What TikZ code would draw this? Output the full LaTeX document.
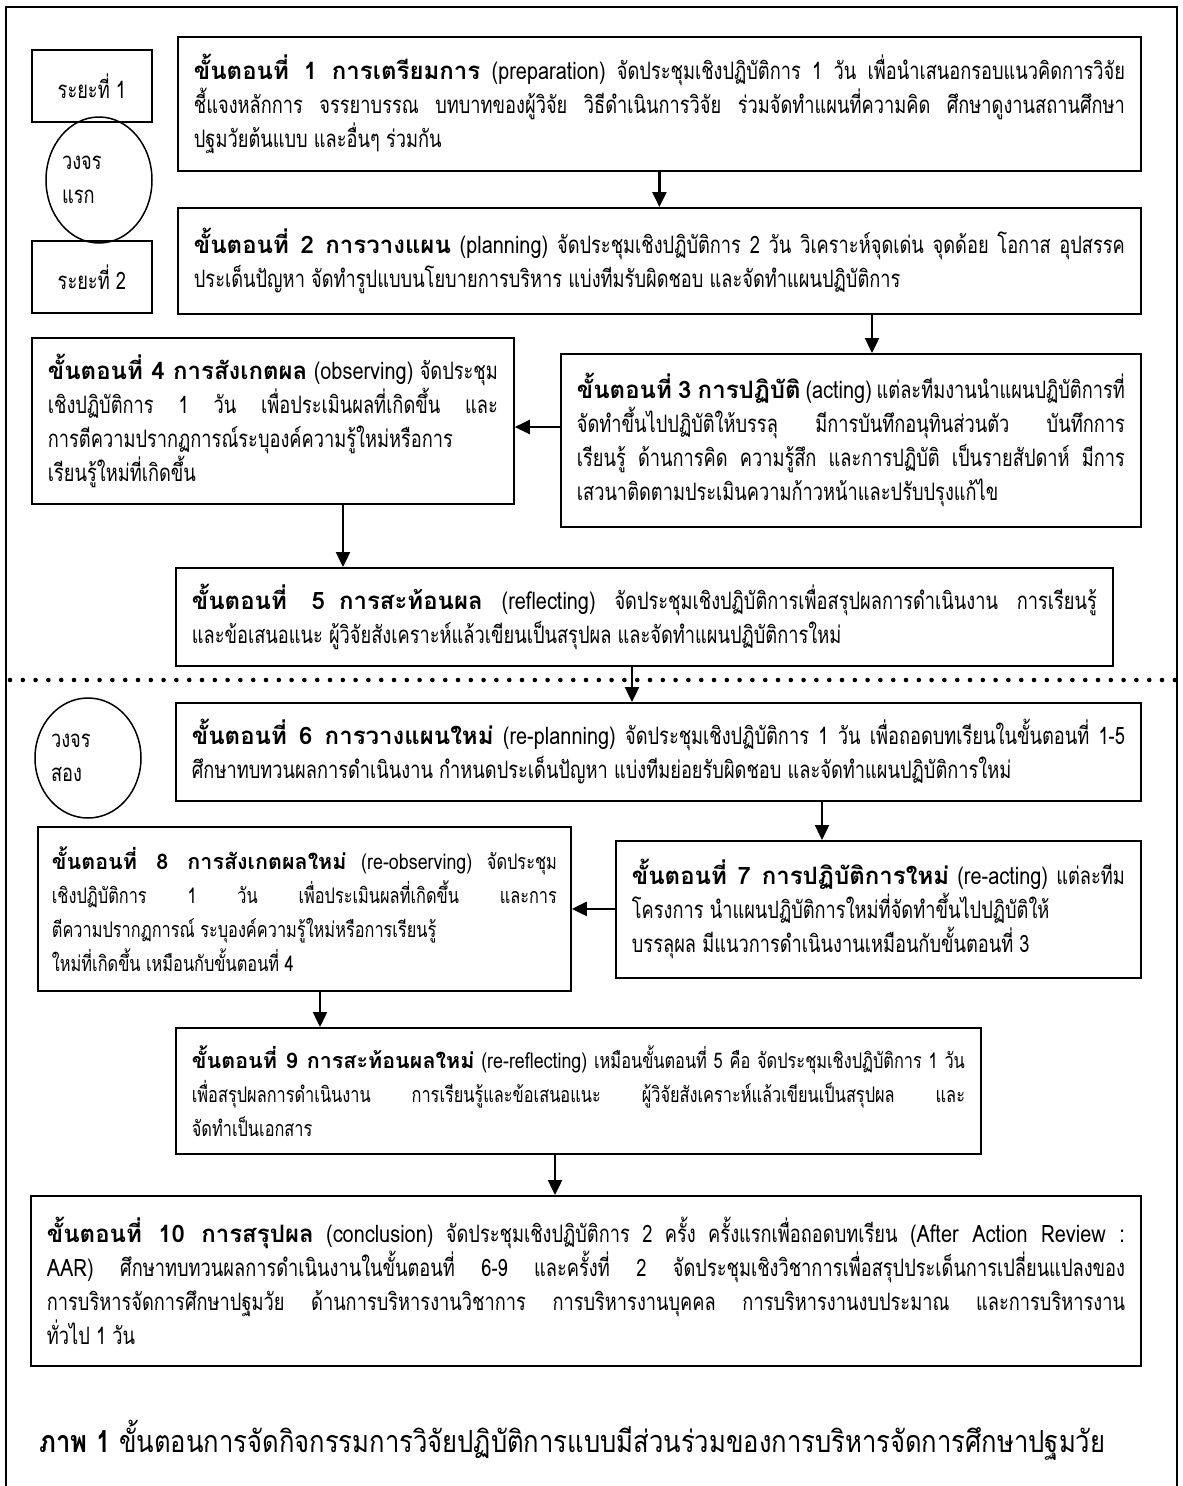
\documentclass[tikz,border=0pt]{standalone}
\usepackage{fontspec}
\setmainfont[Script=Thai, FakeStretch=0.76]{Loma}
\newfontfamily\headthai[Script=Thai]{Loma}
\newfontfamily\engthai[Script=Thai, FakeStretch=0.83]{Loma}
\newfontfamily\captionthai[Script=Thai, FakeStretch=0.84]{Loma}
\newcommand\stephead[1]{{\headthai\bfseries #1}}
\newcommand\engword[1]{{\engthai #1}}
\usetikzlibrary{arrows.meta,shapes.geometric}

\tikzset{
  stepbox/.style={draw, line width=1.8pt, anchor=north west, inner xsep=16pt, inner ysep=6pt, align=justify},
  phasebox/.style={draw, line width=1.8pt, anchor=north west, minimum width=120pt, minimum height=72pt},
  cyclering/.style={draw, ellipse, line width=1.5pt, minimum width=106pt, minimum height=126pt, inner sep=0pt, text width=74pt, align=left},
  arr/.style={-{Triangle[length=15pt,width=14pt]}, line width=2.4pt}
}

\begin{document}
\begin{tikzpicture}[x=1pt, y=-1pt, font=\fontsize{24}{34}\selectfont]
\useasboundingbox (0,0) rectangle (1183,1486);
% page frame
\draw[line width=1.2pt] (6,1490) -- (6,7) -- (1177,7) -- (1177,1490);

% first cycle
\node[phasebox] (r1) at (31,49) {ระยะที่ 1};
\node[phasebox] (r2) at (31,240) {ระยะที่ 2};
\node[cyclering] (c1) at (99,180) {วงจร\\แรก};

\node[stepbox, text width=931pt, minimum height=134pt] (s1) at (177,36)
  {\stephead{ขั้นตอนที่ 1 การเตรียมการ} \engword{(preparation)} จัดประชุมเชิงปฏิบัติการ 1 วัน เพื่อนำเสนอกรอบแนวคิดการวิจัย\linebreak
   ชี้แจงหลักการ จรรยาบรรณ บทบาทของผู้วิจัย วิธีดำเนินการวิจัย ร่วมจัดทำแผนที่ความคิด ศึกษาดูงานสถานศึกษา\linebreak
   ปฐมวัยต้นแบบ และอื่นๆ ร่วมกัน};
\node[stepbox, text width=931pt, minimum height=106pt] (s2) at (177,207)
  {\stephead{ขั้นตอนที่ 2 การวางแผน} \engword{(planning)} จัดประชุมเชิงปฏิบัติการ 2 วัน วิเคราะห์จุดเด่น จุดด้อย โอกาส อุปสรรค\linebreak
   ประเด็นปัญหา จัดทำรูปแบบนโยบายการบริหาร แบ่งทีมรับผิดชอบ และจัดทำแผนปฏิบัติการ};
\node[stepbox, text width=548pt, minimum height=173pt] (s3) at (560,353)
  {\stephead{ขั้นตอนที่ 3 การปฏิบัติ} \engword{(acting)} แต่ละทีมงานนำแผนปฏิบัติการที่\linebreak
   จัดทำขึ้นไปปฏิบัติให้บรรลุ มีการบันทึกอนุทินส่วนตัว บันทึกการ\linebreak
   เรียนรู้ ด้านการคิด ความรู้สึก และการปฏิบัติ เป็นรายสัปดาห์ มีการ\linebreak
   เสวนาติดตามประเมินความก้าวหน้าและปรับปรุงแก้ไข};
\node[stepbox, text width=450pt, minimum height=166pt] (s4) at (31,337)
  {\stephead{ขั้นตอนที่ 4 การสังเกตผล} \engword{(observing)} จัดประชุม\linebreak
   เชิงปฏิบัติการ 1 วัน เพื่อประเมินผลที่เกิดขึ้น และ\linebreak
   การตีความปรากฏการณ์ระบุองค์ความรู้ใหม่หรือการ\linebreak
   เรียนรู้ใหม่ที่เกิดขึ้น};
\node[stepbox, text width=905pt, minimum height=98pt] (s5) at (175,567)
  {\stephead{ขั้นตอนที่ 5\hspace{14pt}การสะท้อนผล} \engword{(reflecting)} จัดประชุมเชิงปฏิบัติการเพื่อสรุปผลการดำเนินงาน การเรียนรู้\linebreak
   และข้อเสนอแนะ ผู้วิจัยสังเคราะห์แล้วเขียนเป็นสรุปผล และจัดทำแผนปฏิบัติการใหม่};

\coordinate (a23) at (872,0);
\coordinate (a45) at (343,0);
\draw[arr] (s1) -- (s2);
\draw[arr] (s2.south -| a23) -- (s3.north -| a23);
\draw[arr] (s3.west |- 0,427) -- (s4.east |- 0,427);
\draw[arr] (s4.south -| a45) -- (s5.north -| a45);

% break between the two cycles
\draw[line width=4.6pt, line cap=round, dash pattern=on 0pt off 12.8pt] (10,680) -- (1176,680);

% second cycle
\node[cyclering, minimum height=120pt] (c2) at (88,758) {วงจร\\สอง};

\node[stepbox, text width=933pt, minimum height=98pt] (s6) at (175,702)
  {\stephead{ขั้นตอนที่ 6 การวางแผนใหม่} \engword{(re-planning)} จัดประชุมเชิงปฏิบัติการ 1 วัน เพื่อถอดบทเรียนในขั้นตอนที่ 1-5\linebreak
   ศึกษาทบทวนผลการดำเนินงาน กำหนดประเด็นปัญหา แบ่งทีมย่อยรับผิดชอบ และจัดทำแผนปฏิบัติการใหม่};
\node[stepbox, text width=493pt, minimum height=137pt] (s7) at (615,840)
  {\stephead{ขั้นตอนที่ 7 การปฏิบัติการใหม่} \engword{(re-acting)} แต่ละทีม\linebreak
   โครงการ นำแผนปฏิบัติการใหม่ที่จัดทำขึ้นไปปฏิบัติให้\\
   บรรลุผล มีแนวการดำเนินงานเหมือนกับขั้นตอนที่ 3};
\node[stepbox, inner xsep=14pt, text width=505pt, minimum height=164pt, font=\fontsize{21.5}{34}\selectfont] (s8) at (37,826)
  {\stephead{ขั้นตอนที่ 8 การสังเกตผลใหม่} \engword{(re-observing)} จัดประชุม\linebreak
   เชิงปฏิบัติการ 1 วัน เพื่อประเมินผลที่เกิดขึ้น และการ\linebreak
   ตีความปรากฏการณ์ ระบุองค์ความรู้ใหม่หรือการเรียนรู้\\
   ใหม่ที่เกิดขึ้น เหมือนกับขั้นตอนที่ 4};
\node[stepbox, text width=773pt, minimum height=126pt, font=\fontsize{21.5}{34}\selectfont] (s9) at (175,1027)
  {\stephead{ขั้นตอนที่ 9 การสะท้อนผลใหม่} \engword{(re-reflecting)} เหมือนขั้นตอนที่ 5 คือ จัดประชุมเชิงปฏิบัติการ 1 วัน\linebreak
   เพื่อสรุปผลการดำเนินงาน การเรียนรู้และข้อเสนอแนะ ผู้วิจัยสังเคราะห์แล้วเขียนเป็นสรุปผล และ\linebreak
   จัดทำเป็นเอกสาร};
\node[stepbox, text width=1078pt, minimum height=170pt] (s10) at (30,1195)
  {\stephead{ขั้นตอนที่ 10 การสรุปผล} \engword{(conclusion)} จัดประชุมเชิงปฏิบัติการ 2 ครั้ง ครั้งแรกเพื่อถอดบทเรียน \engword{(After Action Review :}\linebreak
   \engword{AAR)} ศึกษาทบทวนผลการดำเนินงานในขั้นตอนที่ 6-9 และครั้งที่ 2 จัดประชุมเชิงวิชาการเพื่อสรุปประเด็นการเปลี่ยนแปลงของ\linebreak
   การบริหารจัดการศึกษาปฐมวัย ด้านการบริหารงานวิชาการ การบริหารงานบุคคล การบริหารงานงบประมาณ และการบริหารงาน\linebreak
   ทั่วไป 1 วัน};

\coordinate (a56) at (632,0);
\coordinate (a67) at (822,0);
\coordinate (a89) at (320,0);
\coordinate (a910) at (555,0);
\draw[arr] (s5.south -| a56) -- (s6.north -| a56);
\draw[arr] (s6.south -| a67) -- (s7.north -| a67);
\draw[arr] (s7.west |- s8.east) -- (s8.east);
\draw[arr] (s8.south -| a89) -- (s9.north -| a89);
\draw[arr] (s9.south -| a910) -- (s10.north -| a910);

\node[anchor=west, font=\captionthai\fontsize{30.5}{34}\selectfont] (cap) at (36,1440)
  {\textbf{ภาพ 1} ขั้นตอนการจัดกิจกรรมการวิจัยปฏิบัติการแบบมีส่วนร่วมของการบริหารจัดการศึกษาปฐมวัย};
\end{tikzpicture}
\end{document}
